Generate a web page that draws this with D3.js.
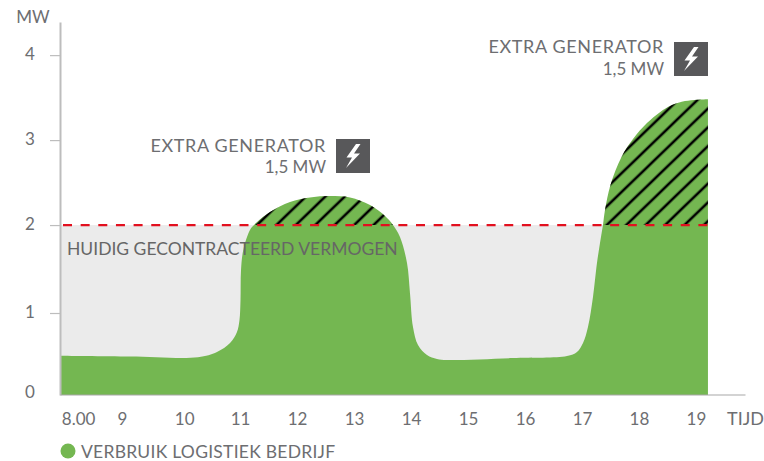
<!DOCTYPE html>
<html><head><meta charset="utf-8">
<script src="https://cdn.jsdelivr.net/npm/d3@7"></script>
<style>html,body{margin:0;background:#fff}svg{display:block}text{font-family:Lato,"Open Sans",sans-serif;fill:#6d6e71}</style>
</head><body><div id="c"></div>
<script>
const hours=[7.842,9.07,10.263,10.596,10.825,10.947,10.991,11.009,11.018,11.058,11.175,11.246,11.526,11.877,12.228,12.579,12.93,13.281,13.544,13.684,13.807,13.93,13.982,14.035,14.123,14.281,14.456,14.632,15.789,16.737,16.912,17.018,17.105,17.193,17.263,17.316,17.368,17.404,17.5,17.693,17.895,18.14,18.368,18.579,18.807,19.018,19.21];
const usage=[.462,.453,.444,.506,.612,.741,.882,1.118,1.471,1.706,1.941,2,2.153,2.271,2.324,2.341,2.324,2.235,2.106,2,1.859,1.553,1.2,.8,.588,.471,.424,.412,.435,.459,.506,.612,.8,1.153,1.553,1.788,2,2.176,2.471,2.8,3.012,3.2,3.329,3.412,3.459,3.476,3.482];
const xTickHours=[8.16,8.93,10.02,11,12,13,14,15,16,17,18,19];
const xTickLabels=["8.00","9","10","11","12","13","14","15","16","17","18","19"];
const yTicks=[0.965,2,3,4];
const contracted=2;
const contractedLabel="HUIDIG GECONTRACTEERD VERMOGEN";
const legendLabel="VERBRUIK LOGISTIEK BEDRIJF";
const green="#74b751";
const W=764,H=461;
const x=d3.scaleLinear().domain([7.842,19.86]).range([60,745]);
const y=d3.scaleLinear().domain([0,4.39]).range([395,22]);
const data=hours.map((h,i)=>({h,v:usage[i]}));
const svg=d3.select("#c").append("svg").attr("width",W).attr("height",H);
const defs=svg.append("defs");
const p=defs.append("pattern").attr("id","hatch").attr("patternUnits","userSpaceOnUse")
 .attr("width",13.5).attr("height",13.5)
 .attr("patternTransform","translate(257,225) rotate(-44) translate(0,-6.75)");
p.append("line").attr("x1",0).attr("x2",13.5).attr("y1",6.75).attr("y2",6.75).attr("stroke","#000").attr("stroke-width",2.6);
defs.append("clipPath").attr("id","above").append("rect").attr("x",x(hours[0])).attr("width",x(hours[hours.length-1])-x(hours[0])).attr("y",0).attr("height",y(contracted));

svg.append("rect").attr("x",x(hours[0])).attr("width",x(17.4)-x(hours[0])).attr("y",y(contracted)).attr("height",y(0)-y(contracted)).attr("fill","#ebebeb");
const area=d3.area().x(d=>x(d.h)).y0(y(0)).y1(d=>y(d.v)).curve(d3.curveCatmullRom.alpha(0.5));
svg.append("path").datum(data).attr("d",area).attr("fill",green);
svg.append("path").datum(data).attr("d",area).attr("fill","url(#hatch)").attr("clip-path","url(#above)");

const ya=svg.append("g").attr("transform",`translate(${x.range()[0]},0)`).call(d3.axisLeft(y).tickValues(yTicks).tickSizeInner(10).tickSizeOuter(0).tickFormat(d=>Math.round(d)));
ya.select(".domain").attr("stroke","#bdbdbd").attr("stroke-width",2);
ya.selectAll(".tick line").attr("stroke","#bdbdbd").attr("stroke-width",1.2);
ya.selectAll(".tick text").attr("x",-30).attr("y",-1).attr("text-anchor","middle").attr("font-size",17).attr("dy","0.32em");
ya.append("text").attr("x",-30).attr("y",y(0)-2).attr("text-anchor","middle").attr("dy","0.32em").attr("font-size",17).text("0");
svg.append("text").attr("x",33).attr("y",23).attr("text-anchor","middle").attr("font-size",17).text("MW");

const xa=svg.append("g").attr("transform",`translate(0,${y(0)-0.5})`).call(d3.axisBottom(x).tickValues(xTickHours).tickSizeInner(0).tickSizeOuter(0).tickPadding(18).tickFormat((d,i)=>xTickLabels[i]));
xa.select(".domain").attr("stroke","#a8a8a8").attr("stroke-width",1.2);
xa.selectAll(".tick text").attr("font-size",17);
svg.append("text").attr("x",745.5).attr("y",424.5).attr("text-anchor","middle").attr("font-size",18).text("TIJD");

svg.append("line").attr("x1",x(hours[0])+3).attr("x2",x(hours[hours.length-1])).attr("y1",y(contracted)).attr("y2",y(contracted))
 .attr("stroke","#e2101f").attr("stroke-width",2.2).attr("stroke-dasharray","9 8.65");
svg.append("text").attr("x",67).attr("y",255).attr("font-size",17.5).style("fill","#666").text(contractedLabel);

function note(right,top,b1,b2){
  const g=svg.append("g");
  g.append("text").attr("x",right).attr("y",b1).attr("text-anchor","end").attr("font-size",18).attr("letter-spacing",.65).text("EXTRA GENERATOR");
  g.append("text").attr("x",right).attr("y",b2).attr("text-anchor","end").attr("font-size",17).text("1,5 MW");
  const ix=right+10, iy=top;
  g.append("rect").attr("x",ix).attr("y",iy).attr("width",34).attr("height",34).attr("fill","#58585a");
  g.append("path").attr("transform",`translate(${ix},${iy})`).attr("fill","#fff")
   .attr("d","M20 5 L10.5 18.5 L16 18.5 L10 29 L24 14.5 L18 14.5 L24.5 5 Z");
}
note(326,139,152,173);
note(664,42,53,75);

svg.append("circle").attr("cx",68).attr("cy",451).attr("r",7.5).attr("fill",green);
svg.append("text").attr("x",81).attr("y",458).attr("font-size",17.5).attr("letter-spacing",.25).text(legendLabel);
</script></body></html>
